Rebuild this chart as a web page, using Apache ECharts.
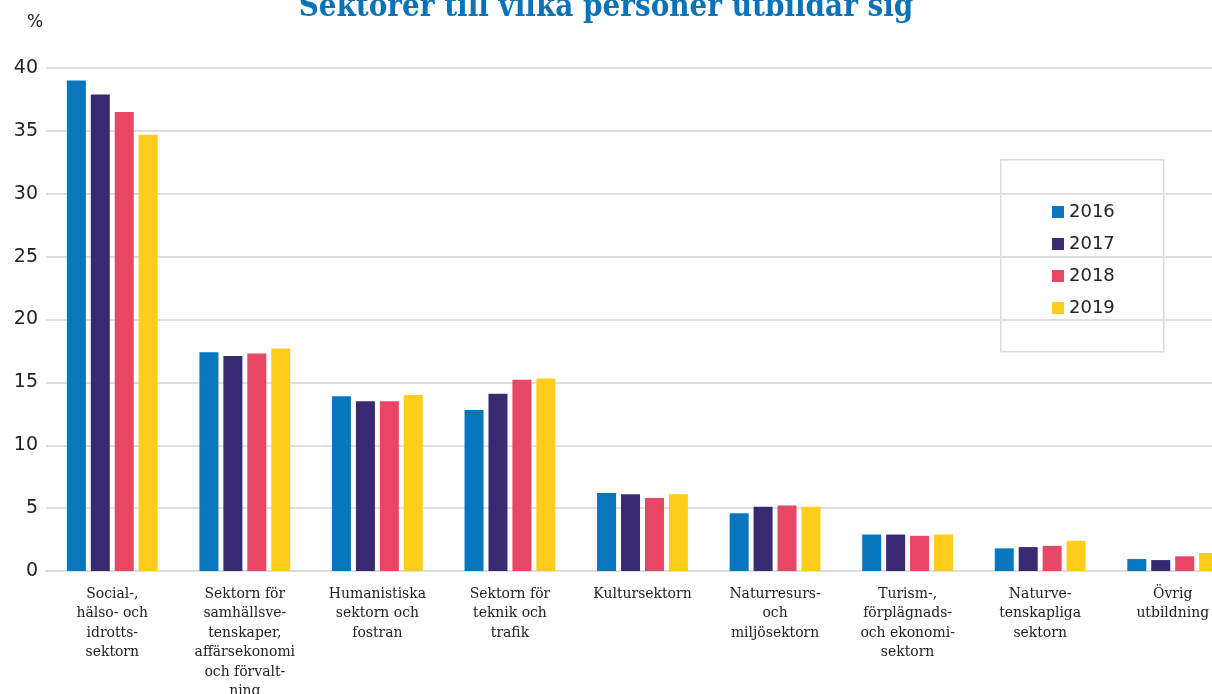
<!DOCTYPE html>
<html>
<head>
  <meta charset="utf-8">
  <script src="https://cdn.jsdelivr.net/npm/echarts@6/dist/echarts.min.js"></script>
  <style>
    html, body { margin: 0; padding: 0; width: 100%; height: 100%; background: #fff; }
    #main { width: 1212px; height: 694px; }
  </style>
</head>
<body>
  <div id="main"></div>
  <script>
    // sektorer (radbrytningar som i originalet)
    var categories = [
      'Social-,\nhälso- och\nidrotts-\nsektorn',
      'Sektorn för\nsamhällsve-\ntenskaper,\naffärsekonomi\noch förvalt-\nning',
      'Humanistiska\nsektorn och\nfostran',
      'Sektorn för\nteknik och\ntrafik',
      'Kultursektorn',
      'Naturresurs-\noch\nmiljösektorn',
      'Turism-,\nförplägnads-\noch ekonomi-\nsektorn',
      'Naturve-\ntenskapliga\nsektorn',
      'Övrig\nutbildning'
    ];
    var years = ['2016', '2017', '2018', '2019'];
    var v2016 = [39.0, 17.4, 13.9, 12.8, 6.2, 4.6, 2.9, 1.8, 0.95];
    var v2017 = [37.9, 17.1, 13.5, 14.1, 6.1, 5.1, 2.9, 1.9, 0.87];
    var v2018 = [36.5, 17.3, 13.5, 15.2, 5.8, 5.2, 2.8, 2.0, 1.17];
    var v2019 = [34.7, 17.7, 14.0, 15.3, 6.1, 5.1, 2.9, 2.4, 1.43];
    var yTicks = [0, 5, 10, 15, 20, 25, 30, 35, 40];

    var colors = ['#0677bd', '#372a71', '#e84665', '#fecd1a'];
    var values = [v2016, v2017, v2018, v2019];

    var myChart = echarts.init(document.getElementById('main'));

    var series = years.map(function (y, i) {
      return {
        name: y,
        type: 'bar',
        data: values[i],
        barWidth: 19,
        barGap: '26%',
        itemStyle: { color: colors[i] }
      };
    });

    var option = {
      animation: false,
      color: colors,
      title: {
        text: 'Sektorer till vilka personer utbildar sig',
        left: 'center',
        top: -13,
        textStyle: {
          fontFamily: 'DejaVu Serif Condensed',
          fontWeight: 'bold',
          fontSize: 31,
          color: '#0a73b8'
        }
      },
      grid: { left: 46, top: 68, width: 1193, height: 503, outerBoundsMode: 'none', containLabel: false },
      legend: {
        orient: 'vertical',
        left: 1047,
        top: 198,
        itemWidth: 12,
        itemHeight: 12,
        itemGap: 14,
        itemTextGap: 11,
        icon: 'rect',
        data: years,
        textStyle: { fontFamily: 'DejaVu Sans', fontSize: 18, color: '#222' }
      },
      graphic: [
        {
          type: 'rect',
          left: 1000, top: 159,
          shape: { width: 163, height: 192 },
          style: { fill: '#fff', stroke: '#dcdcdc', lineWidth: 1.5 },
          z: 0
        },
        {
          type: 'text',
          left: 27, top: 14,
          style: { text: '%', fontFamily: 'DejaVu Sans', fontSize: 17, fill: '#222' }
        }
      ],
      xAxis: {
        type: 'category',
        data: categories,
        axisTick: { show: false },
        axisLine: { lineStyle: { color: '#dedede', width: 2 } },
        axisLabel: {
          interval: 0,
          margin: 13,
          fontFamily: 'DejaVu Serif Condensed',
          fontSize: 15.5,
          lineHeight: 19.5,
          color: '#222'
        }
      },
      yAxis: {
        type: 'value',
        min: 0,
        max: 40,
        interval: 5,
        axisLine: { show: false },
        axisTick: { show: false },
        splitLine: { lineStyle: { color: '#dedede', width: 2 } },
        axisLabel: {
          margin: 8,
          fontFamily: 'DejaVu Sans',
          fontSize: 19,
          color: '#222',
          formatter: function (v) { return yTicks.indexOf(v) >= 0 ? String(v) : ''; }
        }
      },
      series: series
    };

    myChart.setOption(option);
  </script>
</body>
</html>
